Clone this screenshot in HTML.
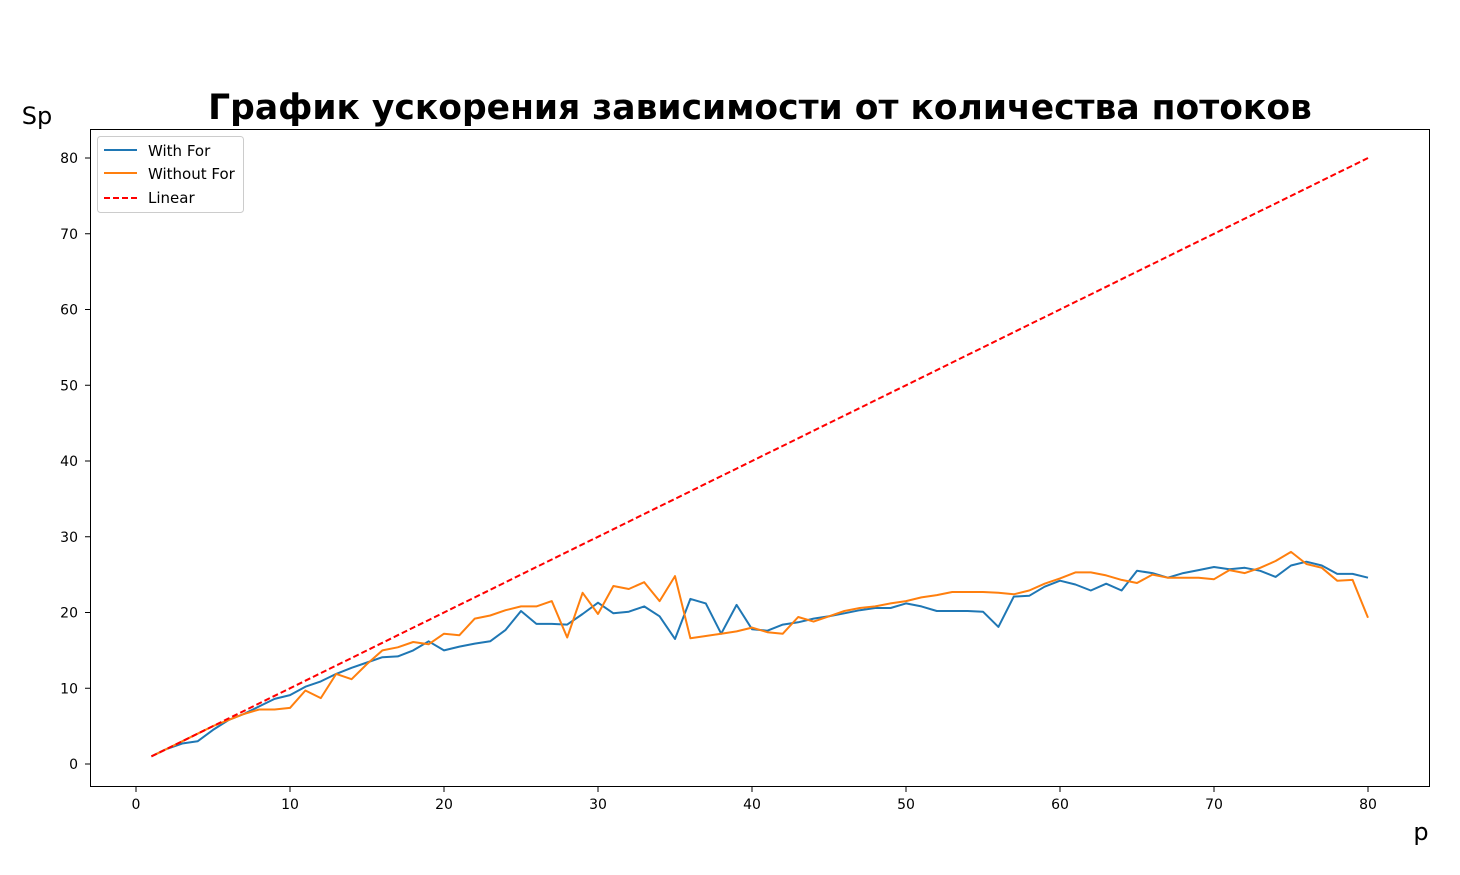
<!DOCTYPE html>
<html><head><meta charset="utf-8"><style>
body{margin:0;background:#fff;}
svg{display:block;font-family:"DejaVu Sans","Liberation Sans",sans-serif;}
</style></head><body>
<svg id="chart" width="1460" height="875" viewBox="0 0 1460 875">
<text x="760" y="119" text-anchor="middle" font-size="34.5" font-weight="bold">График ускорения зависимости от количества потоков</text>
<text x="37" y="124" text-anchor="middle" font-size="24">Sp</text>
<text x="1421" y="840" text-anchor="middle" font-size="24">p</text>
<g id="xticks"></g>
<g id="yticks"></g>
<g id="series"></g>
<rect x="90.5" y="129.5" width="1339" height="657" fill="none" stroke="#000" stroke-width="1"/>
<g>
<rect x="97.5" y="136.5" width="146" height="76" rx="3" fill="#fff" stroke="#ccc"/>
<line x1="104" y1="150" x2="137" y2="150" stroke="#1f77b4" stroke-width="2"/>
<text x="148" y="156" font-size="15">With For</text>
<line x1="104" y1="173" x2="137" y2="173" stroke="#ff7f0e" stroke-width="2"/>
<text x="148" y="179" font-size="15">Without For</text>
<line x1="104" y1="198" x2="137" y2="198" stroke="#ff0000" stroke-width="2" stroke-dasharray="6,3"/>
<text x="148" y="203" font-size="15">Linear</text>
</g>
</svg>
<script>
const xTickLabels=[0,10,20,30,40,50,60,70,80];
const yTickLabels=[0,10,20,30,40,50,60,70,80];
const withFor=[1,2,2.7,3,4.5,5.8,6.6,7.6,8.6,9.1,10.2,10.9,11.9,12.7,13.4,14.1,14.2,15.0,16.2,15.0,15.5,15.9,16.2,17.7,20.2,18.5,18.5,18.4,19.8,21.3,19.9,20.1,20.8,19.5,16.5,21.8,21.2,17.2,21.0,17.8,17.6,18.4,18.7,19.2,19.5,19.9,20.3,20.6,20.6,21.2,20.8,20.2,20.2,20.2,20.1,18.1,22.1,22.2,23.4,24.2,23.7,22.9,23.8,22.9,25.5,25.2,24.6,25.2,25.6,26.0,25.7,25.9,25.5,24.7,26.2,26.7,26.2,25.1,25.1,24.6];
const withoutFor=[1,2,3,4,5,5.8,6.6,7.2,7.2,7.4,9.7,8.7,11.9,11.2,13.2,15.0,15.4,16.1,15.8,17.2,17.0,19.2,19.6,20.3,20.8,20.8,21.5,16.7,22.6,19.8,23.5,23.1,24.0,21.5,24.8,16.6,16.9,17.2,17.5,18.0,17.4,17.2,19.4,18.8,19.5,20.2,20.6,20.8,21.2,21.5,22.0,22.3,22.7,22.7,22.7,22.6,22.4,22.9,23.8,24.5,25.3,25.3,24.9,24.3,23.9,25.0,24.6,24.6,24.6,24.4,25.6,25.2,25.9,26.8,28.0,26.4,25.9,24.2,24.3,19.3];
const threads=withFor.map((_,i)=>i+1);
const linear=threads.slice();
const NS='http://www.w3.org/2000/svg';
function sx(v){return 136+v*(1368-136)/80;}
function sy(v){return 764-v*(764-158)/80;}
const xg=document.getElementById('xticks'),yg=document.getElementById('yticks'),sg=document.getElementById('series');
function mk(tag,attrs,parent){const e=document.createElementNS(NS,tag);for(const k in attrs)e.setAttribute(k,attrs[k]);parent.appendChild(e);return e;}
xTickLabels.forEach(v=>{
  const l=mk('line',{x1:sx(v),x2:sx(v),y1:787,y2:792,stroke:'#000'},xg);
  
  
  const t=mk('text',{x:sx(v),y:809,'text-anchor':'middle','font-size':14},xg);t.textContent=v;
  
  
});
yTickLabels.forEach(v=>{
  const l=mk('line',{x1:85,x2:90,y1:sy(v),y2:sy(v),stroke:'#000'},yg);
  
  
  const t=mk('text',{x:78,y:sy(v)+5,'text-anchor':'end','font-size':14},yg);t.textContent=v;
  
  
});
function line(vals,color,dash,name){
  const pts=vals.map((v,i)=>sx(threads[i]).toFixed(1)+','+sy(v).toFixed(1)).join(' ');
  const p=mk('polyline',{points:pts,fill:'none',stroke:color,'stroke-width':2,'stroke-linejoin':'round'},sg);
  if(dash)p.setAttribute('stroke-dasharray',dash);
  
  
}
line(withFor,'#1f77b4',null,'with-for-line');
line(withoutFor,'#ff7f0e',null,'without-for-line');
line(linear,'#ff0000','6,3','linear-line');
</script>
</body></html>
